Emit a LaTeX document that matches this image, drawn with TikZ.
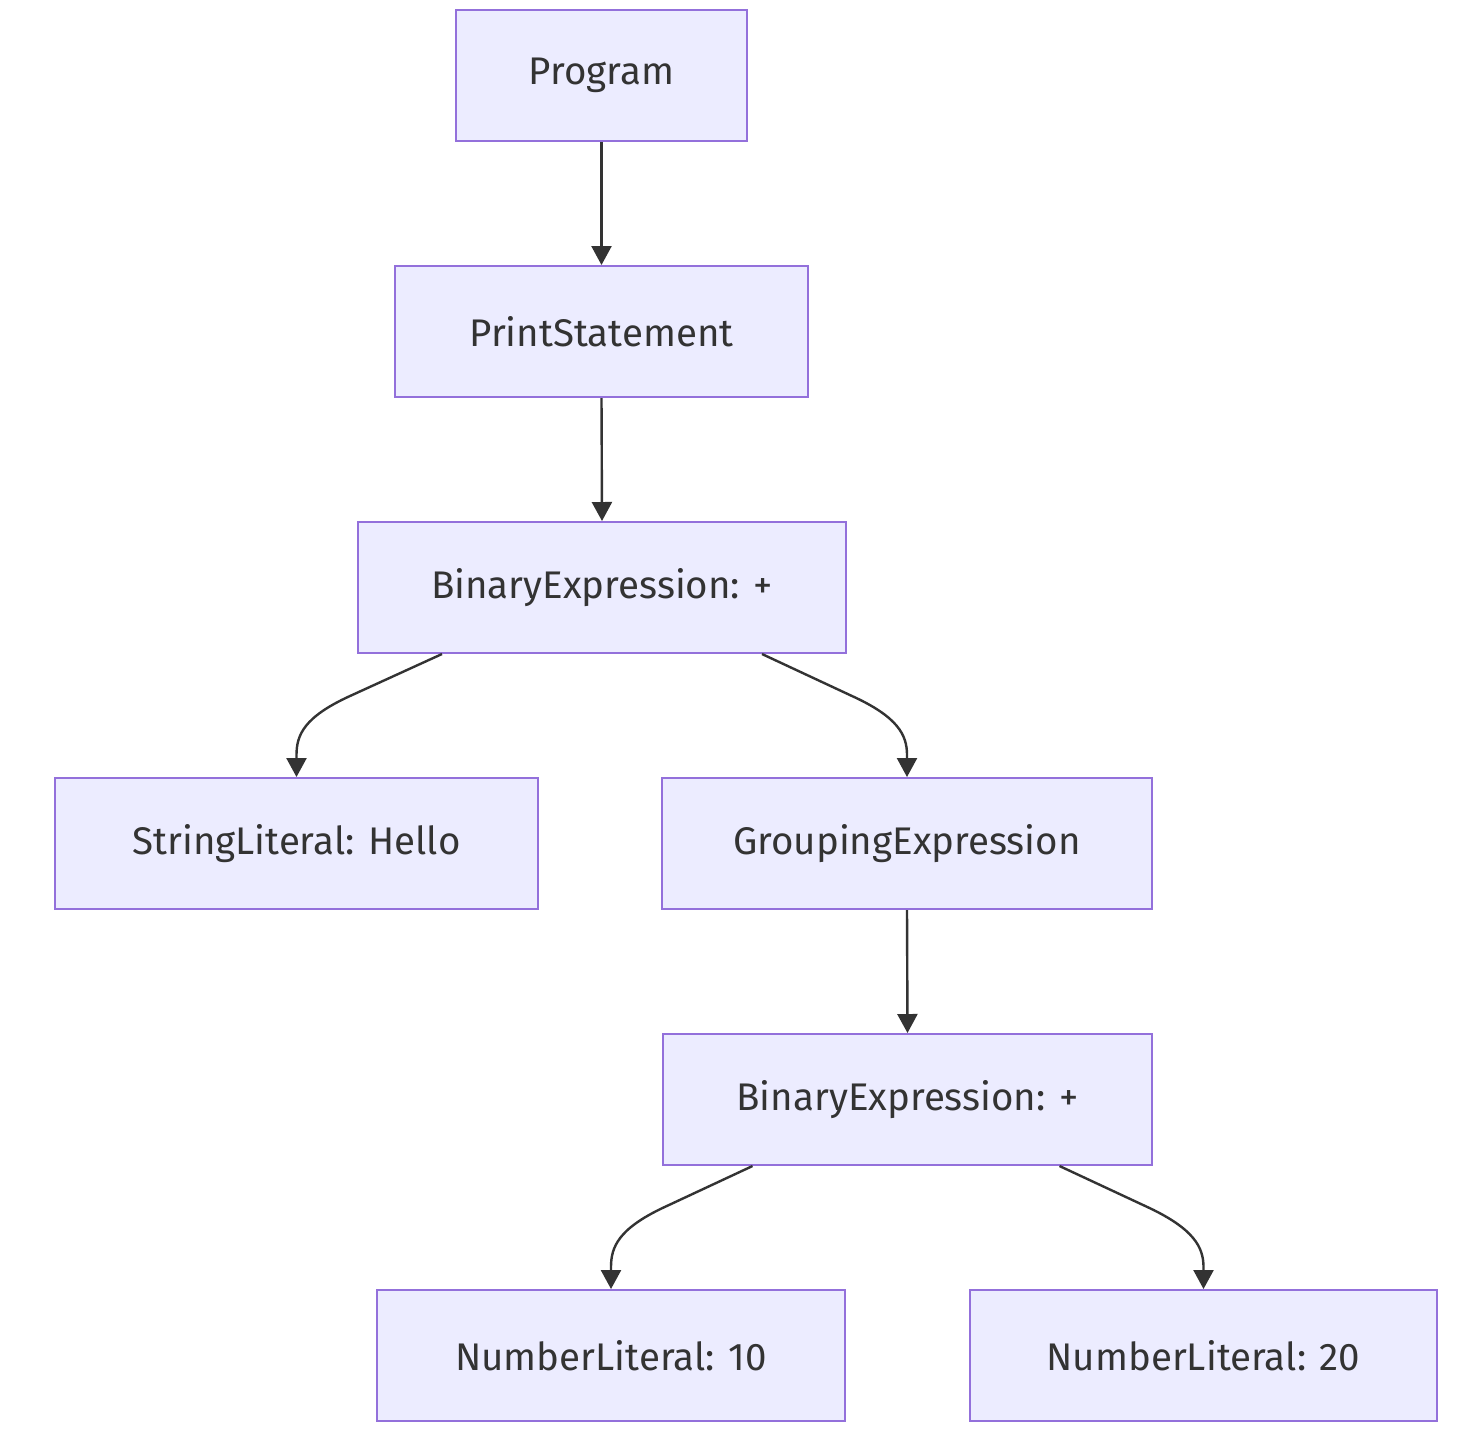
\documentclass[tikz,border=0pt]{standalone}
\usepackage{fontspec}
\setmainfont{Fira Sans}
\usetikzlibrary{arrows.meta}
\definecolor{nodefill}{HTML}{ECECFF}
\definecolor{nodeline}{HTML}{9370DB}
\definecolor{edgecol}{HTML}{333333}
\begin{document}
\begin{tikzpicture}[x=1pt,y=-1pt,
  box/.style={draw=nodeline, fill=nodefill, line width=2pt, minimum height=131pt, inner sep=0pt,
    font=\fontsize{38.5}{44}\selectfont, text=edgecol},
  edge/.style={draw=edgecol, line width=2.4pt, -{Triangle[length=19pt,width=20pt]}}]
\useasboundingbox (0,0) rectangle (1458,1444);
\fill[white] (0,0) rectangle (1458,1444);
\node[box, minimum width=291pt] (prog) at (601.5,75.5) {Program};
\node[box, minimum width=413pt] (print) at (601.5,331.5) {PrintStatement};
\node[box, minimum width=488pt] (bin1) at (602,587.5) {BinaryExpression: +};
\node[box, minimum width=483pt] (str) at (296.5,843.5) {StringLiteral: Hello};
\node[box, minimum width=490pt] (grp) at (907,843.5) {GroupingExpression};
\node[box, minimum width=489pt] (bin2) at (907.5,1099.5) {BinaryExpression: +};
\node[box, minimum width=468pt] (n10) at (611,1355.5) {NumberLiteral: 10};
\node[box, minimum width=467pt] (n20) at (1203.5,1355.5) {NumberLiteral: 20};
\draw[edge] (prog.south) -- (print.north);
\draw[edge] (print.south) -- (bin1.north);
\draw[edge] ([xshift=-160pt]bin1.south) -- ++(-92,42) .. controls ++(-46,21) and ([yshift=42pt]str.north) .. ([yshift=22pt]str.north) -- (str.north);
\draw[edge] ([xshift=160pt]bin1.south) -- ++(90,42) .. controls ++(46,21) and ([yshift=42pt]grp.north) .. ([yshift=22pt]grp.north) -- (grp.north);
\draw[edge] (grp.south) -- (bin2.north);
\draw[edge] ([xshift=-155pt]bin2.south) -- ++(-90,42) .. controls ++(-44,21) and ([yshift=42pt]n10.north) .. ([yshift=22pt]n10.north) -- (n10.north);
\draw[edge] ([xshift=152pt]bin2.south) -- ++(90,42) .. controls ++(44,21) and ([yshift=42pt]n20.north) .. ([yshift=22pt]n20.north) -- (n20.north);
\end{tikzpicture}
\end{document}
